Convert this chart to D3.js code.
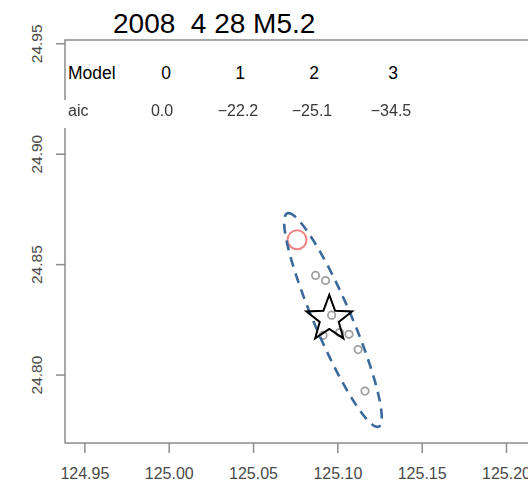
<!DOCTYPE html>
<html>
<head>
<meta charset="utf-8">
<script src="https://cdn.jsdelivr.net/npm/d3@7"></script>
<style>
  body { margin: 0; background: #fff; }
  svg { font-family: "Liberation Sans", Arial, sans-serif; display: block; }
</style>
</head>
<body>
<div id="chart"></div>
<script>
// data
var title = "2008  4 28 M5.2";
var models = [0, 1, 2, 3];
var aicValues = [0.0, -22.2, -25.1, -34.5];

var xTicks = [124.95, 125.00, 125.05, 125.10, 125.15, 125.20];
var yTicks = [24.80, 24.85, 24.90, 24.95];

// aftershock locations (lon, lat)
var eventLon = [125.0871, 125.0930, 125.0966, 125.0915, 125.1013, 125.1069, 125.1123, 125.1164];
var eventLat = [24.8449, 24.8426, 24.8269, 24.8177, 24.8190, 24.8182, 24.8113, 24.7925];

// initial (red) location and best estimate (star)
var initLoc = [125.0761, 24.8610];
var bestLoc = [125.0952, 24.8252];

// error ellipse: centre and two conjugate half-axis vectors (degrees)
var ellCenter = [125.0974, 24.8247];
var ellMajor  = [-0.0271, 0.0483];
var ellMinor  = [0.0101, 0.0033];

var svgWidth = 528;
var svgHeight = 481;

var margin = { top: 40, right: -21, bottom: 38, left: 65 };
var width  = svgWidth  - margin.left - margin.right;
var height = svgHeight - margin.top  - margin.bottom;

var svg = d3.select("#chart")
  .append("svg")
  .attr("width", svgWidth)
  .attr("height", svgHeight);

var x = d3.scaleLinear()
  .domain([124.9385, 125.2255])
  .range([margin.left, margin.left + width]);

var y = d3.scaleLinear()
  .domain([24.769, 24.9515])
  .range([margin.top + height, margin.top]);

var axisColor = "#8c8c8c";
var labelColor = "#4a4a4a";

// frame
svg.append("rect")
  .attr("x", margin.left)
  .attr("y", margin.top)
  .attr("width", width)
  .attr("height", height)
  .attr("fill", "none")
  .attr("stroke", axisColor)
  .attr("stroke-width", 1.5);

// x axis
var xAxis = svg.append("g")
  .attr("transform", `translate(0, ${margin.top + height})`)
  .call(d3.axisBottom(x).tickValues(xTicks).tickSize(10).tickPadding(0).tickFormat(d3.format(".2f")));
xAxis.select(".domain").remove();
xAxis.selectAll("line").attr("stroke", axisColor).attr("stroke-width", 1.5);
xAxis.selectAll("text")
  .attr("dy", null)
  .attr("y", 36)
  .attr("fill", labelColor)
  .style("font-size", "16px");

// y axis
var yAxis = svg.append("g")
  .attr("transform", `translate(${margin.left}, 0)`)
  .call(d3.axisLeft(y).tickValues(yTicks).tickSize(9).tickFormat(d3.format(".2f")));
yAxis.select(".domain").remove();
yAxis.selectAll("line").attr("stroke", axisColor).attr("stroke-width", 1.5);
yAxis.selectAll("text")
  .attr("x", null)
  .attr("dy", null)
  .attr("text-anchor", "middle")
  .attr("transform", "translate(-23, 0) rotate(-90)")
  .attr("fill", labelColor)
  .style("font-size", "15.5px");

// title (keeps the double space)
svg.append("text")
  .attr("x", 113)
  .attr("y", 33)
  .style("font-size", "28px")
  .style("white-space", "pre")
  .attr("xml:space", "preserve")
  .attr("fill", "#000")
  .text(title);

// model / aic table
var tableX = [166, 240, 314, 393];

svg.append("rect")
  .attr("x", 60).attr("y", 100)
  .attr("width", 370).attr("height", 28)
  .attr("fill", "#fff");

var defs = svg.append("defs");
defs.append("filter").attr("id", "soft")
  .append("feGaussianBlur").attr("stdDeviation", 0.45);

svg.append("text")
  .attr("x", 68).attr("y", 79)
  .style("font-size", "17.5px")
  .text("Model");

svg.selectAll(".modelNum")
  .data(models)
  .enter()
  .append("text")
  .attr("class", "modelNum")
  .attr("x", (d, i) => tableX[i])
  .attr("y", 79)
  .attr("text-anchor", "middle")
  .style("font-size", "17.5px")
  .text(d => d);

var aicGroup = svg.append("g").attr("filter", "url(#soft)");

aicGroup.append("text")
  .attr("x", 68).attr("y", 116)
  .attr("fill", "#383838")
  .style("font-size", "16px")
  .text("aic");

aicGroup.selectAll(".aicVal")
  .data(aicValues)
  .enter()
  .append("text")
  .attr("class", "aicVal")
  .attr("x", (d, i) => tableX[i] - (i === 0 ? 4 : 2))
  .attr("y", 116)
  .attr("text-anchor", "middle")
  .attr("fill", "#383838")
  .style("font-size", "16px")
  .text(d => d3.format(".1f")(d));

// aftershocks
var events = eventLon.map((lon, i) => ({ lon: lon, lat: eventLat[i] }));

svg.selectAll(".event")
  .data(events)
  .enter()
  .append("circle")
  .attr("class", "event")
  .attr("cx", d => x(d.lon))
  .attr("cy", d => y(d.lat))
  .attr("r", 3.7)
  .attr("fill", "none")
  .attr("stroke", "#a0a0a0")
  .attr("stroke-width", 1.8);

// initial location
svg.append("circle")
  .attr("cx", x(initLoc[0]))
  .attr("cy", y(initLoc[1]))
  .attr("r", 9.5)
  .attr("fill", "none")
  .attr("stroke", "#f08484")
  .attr("stroke-width", 2);

// error ellipse
var ellPts = d3.range(0, 361, 2).map(function(deg) {
  var t = deg * Math.PI / 180;
  return [
    ellCenter[0] + ellMajor[0] * Math.cos(t) + ellMinor[0] * Math.sin(t),
    ellCenter[1] + ellMajor[1] * Math.cos(t) + ellMinor[1] * Math.sin(t)
  ];
});

svg.append("path")
  .datum(ellPts)
  .attr("d", d3.line().x(d => x(d[0])).y(d => y(d[1])).curve(d3.curveLinearClosed))
  .attr("fill", "none")
  .attr("stroke", "#3a6a9b")
  .attr("stroke-width", 2.6)
  .attr("stroke-dasharray", "10,7");

// best estimate star
var outerR = 24, innerR = 10;
var starPts = d3.range(10).map(function(i) {
  var a = i * Math.PI / 5;
  var r = i % 2 === 0 ? outerR : innerR;
  return [x(bestLoc[0]) + r * Math.sin(a), y(bestLoc[1]) - r * Math.cos(a)];
});

svg.append("path")
  .attr("d", "M" + starPts.join("L") + "Z")
  .attr("fill", "none")
  .attr("stroke", "#000")
  .attr("stroke-width", 2)
  .attr("stroke-linejoin", "miter");
</script>
</body>
</html>
